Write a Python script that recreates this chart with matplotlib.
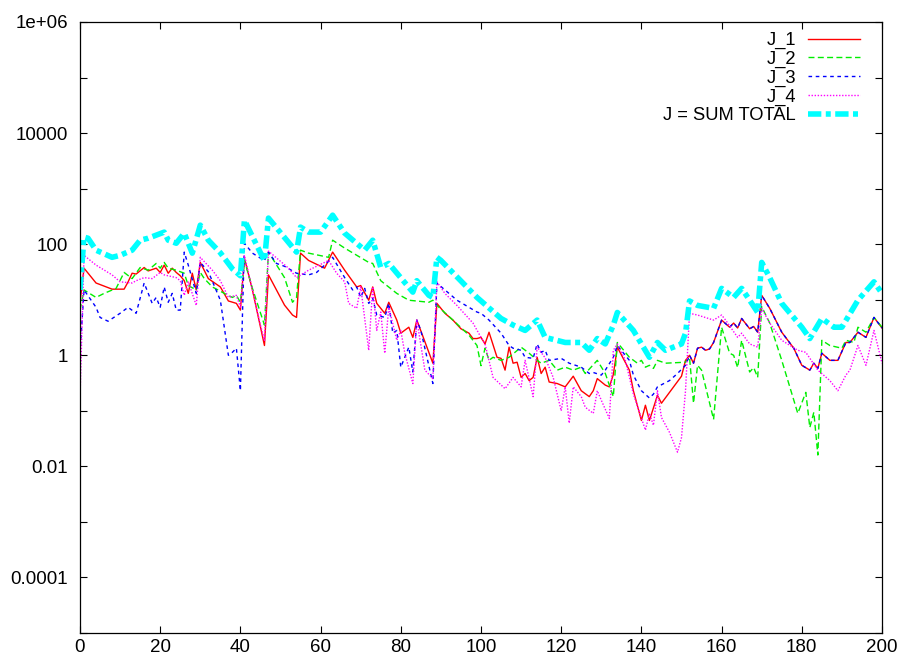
import matplotlib
matplotlib.use("Agg")
import matplotlib.pyplot as plt
from matplotlib.ticker import FixedLocator, FixedFormatter, NullFormatter

plt.rcParams['font.family'] = ['Liberation Sans', 'DejaVu Sans']

# ---------------- data ----------------
j1_x = [0, 1, 4, 8, 11, 12, 13, 14, 16, 17, 19, 20, 21, 22, 23, 24, 25, 26, 27, 28,
        29, 30, 32, 35, 37, 39, 40, 41, 43, 46, 47, 51, 53, 54, 55, 57, 61, 63, 66, 69,
        70, 72, 73, 74, 76, 77, 79, 80, 82, 83, 84, 88, 89, 91, 93, 95, 97, 98, 99, 100,
        101, 102, 104, 105, 106, 107, 108, 109, 110, 111, 112, 113, 114, 115, 116, 117, 119, 121, 123, 125,
        127, 128, 129, 131, 132, 133, 134, 137, 138, 140, 141, 142, 144, 145, 147, 150, 151, 152, 153, 154,
        155, 156, 157, 158, 160, 162, 163, 164, 165, 167, 168, 169, 170, 172, 175, 178, 180, 182, 183, 184,
        185, 187, 189, 191, 192, 194, 196, 198, 200]
j1_y = [9, 37, 20, 15.5, 15.5, 21, 30, 29, 38, 33, 37, 31, 42, 30, 37, 31, 27, 22, 13, 30,
        15, 47, 24, 17, 9.5, 8.6, 6.5, 56, 15, 1.5, 28, 8, 5.3, 4.8, 69, 51, 37, 72, 34, 17,
        18, 9.8, 17, 8.6, 5.7, 9, 4.3, 2.5, 3.2, 2.1, 4.3, 0.72, 8.6, 5.7, 4.3, 3.0, 2.5, 2.0, 2.0, 2.1,
        1.6, 2.6, 0.92, 0.88, 0.54, 1.4, 0.72, 0.75, 0.40, 0.47, 0.35, 0.40, 0.92, 0.47, 0.61, 0.33, 0.31, 0.27, 0.42, 0.23,
        0.18, 0.23, 0.38, 0.29, 0.27, 0.45, 1.4, 0.54, 0.23, 0.067, 0.126, 0.067, 0.19, 0.137, 0.215, 0.42, 0.81, 1.0, 0.72, 1.34,
        1.4, 1.23, 1.3, 1.7, 4.3, 3.2, 3.8, 3.1, 4.6, 3.0, 3.3, 2.6, 12, 7.0, 2.6, 1.34, 0.66, 0.54, 0.72, 0.58,
        1.09, 0.81, 0.81, 1.7, 1.7, 2.6, 2.1, 4.8, 3.1]

j2_x = [0, 1, 4, 6, 9, 11, 13, 15, 17, 19, 20, 21, 22, 24, 26, 27, 29, 30, 31, 33,
        36, 38, 39, 40, 41, 43, 46, 47, 51, 53, 54, 55, 57, 62, 63, 66, 72, 73, 75, 79,
        82, 87, 88, 89, 93, 97, 99, 100, 101, 102, 103, 105, 107, 110, 112, 114, 115, 117, 119, 121,
        123, 125, 126, 129, 131, 133, 134, 137, 139, 140, 141, 142, 143, 144, 146, 151, 152, 153, 154, 155,
        158, 160, 162, 163, 164, 165, 167, 168, 169, 170, 172, 175, 179, 181, 182, 183, 184, 185, 187, 190,
        191, 193, 194, 196, 198, 200]
j2_y = [6.5, 15, 11, 13, 16, 31, 24, 38, 34, 45, 37, 47, 37, 34, 30, 18, 15, 31, 24, 17,
        13, 11, 12, 9, 51, 16, 3.5, 72, 25, 9, 11, 78, 69, 58, 118, 85, 47, 45, 22, 13,
        9.8, 9, 9.8, 7.9, 4.3, 2.3, 1.5, 0.65, 1.34, 0.81, 0.92, 0.81, 0.92, 1.4, 1.09, 0.81, 0.72, 0.81, 0.54, 0.61,
        0.54, 0.61, 0.47, 0.81, 0.47, 0.18, 1.7, 0.92, 0.72, 0.81, 0.61, 0.66, 0.58, 0.81, 0.72, 0.75, 0.92, 0.137, 0.66, 0.54,
        0.07, 3.2, 1.09, 1.0, 0.6, 1.86, 0.5, 0.6, 0.4, 7.5, 3.8, 0.81, 0.09, 0.215, 0.05, 0.094, 0.016, 1.86, 1.5, 1.34,
        1.86, 1.7, 3.2, 2.6, 4.8, 3.2]

j3_x = [0, 1, 4, 5, 7, 10, 12, 14, 16, 18, 19, 20, 21, 22, 23, 24, 25, 26, 27, 29,
        30, 32, 35, 37, 38, 39, 40, 41, 43, 45, 46, 47, 49, 51, 54, 57, 59, 61, 63, 66,
        68, 69, 70, 71, 72, 73, 74, 76, 77, 78, 79, 80, 82, 83, 84, 85, 88, 89, 91, 94,
        99, 100, 102, 105, 107, 108, 110, 111, 113, 114, 115, 116, 117, 120, 122, 125, 127, 128, 130, 131,
        133, 134, 137, 138, 140, 142, 143, 144, 147, 149, 151, 152, 153, 154, 155, 156, 157, 158, 160, 162,
        163, 164, 165, 167, 168, 169, 170, 172, 175, 178, 180, 182, 183, 184, 185, 187, 189, 191, 192, 194,
        196, 198, 200]
j3_y = [1.1, 15, 7.3, 4.8, 4.1, 5.7, 7.3, 5.7, 20, 8.6, 11, 7.3, 17, 9, 13, 6.5, 6.5, 72, 42, 13,
        47, 32, 9.8, 1.0, 1.13, 1.34, 0.23, 104, 69, 56, 51, 72, 45, 40, 30, 28, 31, 42, 58, 25,
        15, 17, 11, 16, 8.6, 10.6, 5.3, 4.8, 8.6, 2.5, 2.8, 0.61, 1.4, 0.5, 4.3, 2.8, 0.31, 20, 15, 9.8,
        6, 5.7, 4.3, 2.5, 1.5, 1.34, 1.23, 0.92, 0.88, 1.6, 1.13, 1.23, 0.81, 0.88, 0.72, 0.61, 0.47, 0.49, 0.44, 0.54,
        0.92, 1.5, 0.81, 0.44, 0.23, 0.17, 0.2, 0.27, 0.35, 0.47, 0.66, 1.0, 0.72, 1.34, 1.4, 1.23, 1.3, 1.7, 4.3, 3.2,
        3.8, 3.1, 4.6, 3.0, 3.3, 2.6, 12, 7.0, 2.6, 1.34, 0.66, 0.54, 0.72, 0.58, 1.09, 0.81, 0.81, 1.7, 1.7, 2.6,
        2.1, 4.8, 3.1]

j4_x = [0, 1, 4, 8, 10, 13, 14, 16, 18, 20, 21, 24, 25, 26, 27, 29, 30, 33, 35, 37,
        39, 40, 41, 43, 45, 46, 47, 52, 54, 57, 61, 62, 64, 66, 67, 69, 70, 72, 73, 74,
        75, 76, 77, 79, 80, 81, 83, 84, 86, 88, 89, 91, 94, 98, 100, 101, 103, 106, 108, 110,
        111, 113, 114, 116, 118, 120, 121, 122, 123, 125, 126, 128, 129, 130, 132, 133, 134, 136, 138, 141,
        142, 143, 144, 145, 147, 149, 150, 151, 152, 154, 158, 160, 161, 164, 165, 167, 169, 170, 172, 175,
        179, 181, 184, 187, 189, 191, 192, 194, 196, 198, 200]
j4_y = [0.17, 63, 42, 28, 21, 20, 22, 25, 24, 31, 28, 25, 22, 12, 21, 7.9, 58, 34, 22, 11,
        12, 7.3, 63, 15, 3.5, 1.86, 75, 37, 25, 34, 47, 51, 30, 21, 8.6, 7, 17, 1.23, 17, 2.8,
        6, 1.09, 7.3, 1.86, 2.8, 1.09, 0.31, 4.3, 0.54, 0.38, 21, 13, 7.9, 3.8, 2.1, 1.6, 0.40, 0.25, 0.40, 0.27,
        0.81, 0.18, 1.4, 0.9, 0.40, 0.10, 0.27, 0.06, 0.27, 0.18, 0.116, 0.09, 0.23, 0.155, 0.073, 1.23, 1.6, 0.81, 0.2, 0.045,
        0.09, 0.055, 0.23, 0.076, 0.041, 0.018, 0.033, 0.23, 5.7, 5.3, 4.3, 5.3, 4.3, 2.1, 2.5, 1.6, 1.4, 7, 3.8, 1.86,
        1.23, 1.13, 0.54, 0.35, 0.23, 0.44, 0.54, 1.5, 0.66, 2.8, 0.72]

jt_x = [0, 1, 2, 4, 8, 10, 13, 15, 17, 21, 22, 24, 26, 27, 28, 30, 32, 35, 38, 40,
        41, 46, 47, 54, 55, 57, 60, 63, 66, 71, 73, 75, 77, 83, 84, 87, 88, 89, 90, 99,
        105, 108, 111, 114, 116, 121, 125, 127, 129, 131, 133, 134, 138, 142, 144, 146, 150, 151, 152, 154,
        158, 160, 163, 165, 167, 169, 170, 172, 175, 180, 182, 185, 188, 190, 194, 198, 200]
jt_y = [15, 134, 128, 78, 58, 63, 78, 118, 128, 165, 118, 104, 158, 104, 69, 220, 118, 70, 36, 27,
        270, 50, 295, 72, 203, 165, 165, 333, 158, 78, 118, 38, 45, 13.7, 22, 12, 11, 58, 51, 11,
        4.6, 3.5, 2.8, 4.3, 2.1, 1.7, 1.7, 1.23, 2.0, 1.6, 3.5, 5.9, 2.8, 0.92, 1.7, 1.23, 1.6, 2.5, 9.5, 7.9,
        7.0, 16, 11, 16, 9.8, 5.9, 47, 25, 8.6, 3.2, 2.0, 4.6, 3.2, 3.2, 9.8, 21, 13]

labels = ["J_1", "J_2", "J_3", "J_4", "J = SUM TOTAL"]
x_ticks = [0, 20, 40, 60, 80, 100, 120, 140, 160, 180, 200]
y_major = [1e-4, 1e-2, 1, 1e2, 1e4, 1e6]
y_major_labels = ["0.0001", "0.01", "1", "100", "10000", "1e+06"]
y_minor = [1e-5, 1e-3, 1e-1, 1e1, 1e3, 1e5]

# ---------------- figure ----------------
W, H = 904, 662
fig = plt.figure(figsize=(W / 100, H / 100), dpi=100)
ax = fig.add_axes([80 / W, (H - 633) / H, 802 / W, 611 / H])

ax.plot(j1_x, j1_y, color="#ff0000", lw=1.0, ls="-", label=labels[0])
ax.plot(j2_x, j2_y, color="#00ee00", lw=1.0, ls=(0, (4.3, 2.4)), label=labels[1])
ax.plot(j3_x, j3_y, color="#0000ff", lw=1.0, ls=(0, (2.6, 2.6)), label=labels[2])
ax.plot(j4_x, j4_y, color="#ff00ff", lw=1.0, ls=(0, (1.0, 1.2)), label=labels[3])
ax.plot(jt_x, jt_y, color="#00ffff", lw=4.0, ls=(0, (2.4, 0.8, 0.9, 0.8)), label=labels[4])

ax.set_yscale("log")
ax.set_xlim(0, 200)
ax.set_ylim(1e-5, 1e6)

ax.xaxis.set_major_locator(FixedLocator(x_ticks))
ax.yaxis.set_major_locator(FixedLocator(y_major))
ax.yaxis.set_major_formatter(FixedFormatter(y_major_labels))
ax.yaxis.set_minor_locator(FixedLocator(y_minor))
ax.yaxis.set_minor_formatter(NullFormatter())

ax.tick_params(which="both", direction="in", length=5, width=0.8,
               top=True, right=True, labelsize=13.5, colors="black")
ax.tick_params(axis="y", which="both", pad=8.5)
ax.tick_params(axis="x", which="both", pad=4)
for s in ax.spines.values():
    s.set_linewidth(0.9)

leg = ax.legend(loc="upper right", bbox_to_anchor=(1 - 22 / 802, 1 - 10 / 611),
                markerfirst=False, frameon=False, fontsize=13.2,
                handlelength=2.85, handletextpad=0.65, labelspacing=0.09,
                borderpad=0, borderaxespad=0)

fig.savefig("out.png", dpi=100)
